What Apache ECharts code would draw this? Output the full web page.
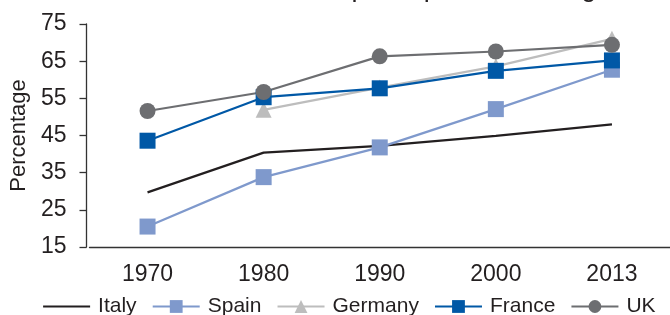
<!DOCTYPE html>
<html>
<head>
<meta charset="utf-8">
<script src="https://cdn.jsdelivr.net/npm/echarts@6/dist/echarts.min.js"></script>
<style>html,body{margin:0;padding:0;background:#fff}#c{width:670px;height:315px}</style>
</head>
<body>
<div id="c"></div>
<script>
var years = ['1970', '1980', '1990', '2000', '2013'];
var italy = [29.7, 40.4, 42.2, 44.9, 48.0];
var spain = [20.5, 33.8, 41.8, 52.1, 62.7];
var germany = [null, 51.9, 57.9, 63.6, 71.0];
var france = [43.6, 55.3, 57.7, 62.4, 65.2];
var uk = [51.6, 56.7, 66.3, 67.6, 69.4];
var yTicks = {min: 15, max: 75, step: 10};
var titleText = 'Female labour force participation rate, ages 15\u201364';

var FONT = '"Liberation Sans", Arial, sans-serif';
var chart = echarts.init(document.getElementById('c'), null, {renderer: 'canvas'});

function mk(name, data, color, symbol) {
  return {
    name: name, type: 'line', data: data,
    symbol: symbol || 'none', symbolSize: 16, showSymbol: !!symbol,
    lineStyle: {color: color, width: 2.2},
    itemStyle: {color: color},
    connectNulls: false,
    animation: false
  };
}

chart.setOption({
  animation: false,
  textStyle: {fontFamily: FONT},
  title: {
    text: titleText, left: 99, top: -30,
    textStyle: {fontSize: 27, fontWeight: 'normal', color: '#231f20', fontFamily: FONT, lineHeight: 27}
  },
  grid: {left: 89, right: -8, top: 24, bottom: 68, containLabel: false},
  legend: {
    left: 37, top: 291, itemWidth: 47, itemHeight: 16, itemGap: 15,
    lineStyle: {width: 2.2},
    textStyle: {fontSize: 21, color: '#231f20', fontFamily: FONT, padding: [0, 0, 0, 3]},
    data: [{name: 'Italy', itemStyle: {opacity: 0}}, 'Spain', 'Germany', 'France', 'UK']
  },
  xAxis: {
    type: 'category', data: years, boundaryGap: true,
    axisLine: {lineStyle: {color: '#333', width: 1.3}},
    axisTick: {alignWithLabel: true, length: 7, lineStyle: {color: '#333', width: 1.3}},
    axisLabel: {fontSize: 23, color: '#231f20', margin: 16, fontFamily: FONT},
    splitLine: {show: false}
  },
  yAxis: {
    type: 'value', min: yTicks.min, max: yTicks.max, interval: yTicks.step, offset: 3,
    name: 'Percentage', nameLocation: 'middle', nameGap: 55,
    nameTextStyle: {fontSize: 22, color: '#231f20', fontFamily: FONT},
    axisLine: {show: true, lineStyle: {color: '#333', width: 1.3}},
    axisTick: {show: true, length: 7, lineStyle: {color: '#333', width: 1.3}},
    axisLabel: {fontSize: 23, color: '#231f20', margin: 20, fontFamily: FONT},
    splitLine: {show: false}
  },
  series: [
    mk('Italy', italy, '#231f20'),
    mk('Spain', spain, '#7f99cc', 'rect'),
    mk('Germany', germany, '#bdbdbd', 'triangle'),
    mk('France', france, '#0058a6', 'rect'),
    mk('UK', uk, '#6d6e71', 'circle')
  ]
});
</script>
</body>
</html>
